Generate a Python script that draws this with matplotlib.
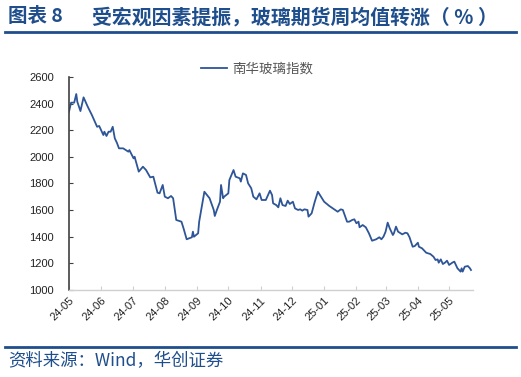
import matplotlib
matplotlib.use('Agg')
import matplotlib.pyplot as plt
import matplotlib.dates as mdates
import pandas as pd

plt.rcParams['font.family'] = ['Noto Sans CJK SC', 'DejaVu Sans']

# 南华玻璃指数
dates = ['2024-05-01', '2024-05-03', '2024-05-06', '2024-05-08', '2024-05-09', '2024-05-12',
         '2024-05-15', '2024-05-19', '2024-05-23', '2024-05-28', '2024-05-30', '2024-06-03',
         '2024-06-04', '2024-06-06', '2024-06-08', '2024-06-10', '2024-06-12', '2024-06-14',
         '2024-06-16', '2024-06-18', '2024-06-22', '2024-06-27', '2024-06-28', '2024-07-02',
         '2024-07-03', '2024-07-07', '2024-07-11', '2024-07-14', '2024-07-18', '2024-07-21',
         '2024-07-25', '2024-07-27', '2024-07-30', '2024-08-01', '2024-08-04', '2024-08-07',
         '2024-08-09', '2024-08-12', '2024-08-17', '2024-08-19', '2024-08-22', '2024-08-27',
         '2024-08-28', '2024-08-29', '2024-09-02', '2024-09-03', '2024-09-08', '2024-09-13',
         '2024-09-17', '2024-09-18', '2024-09-20', '2024-09-23', '2024-09-24', '2024-09-26',
         '2024-09-27', '2024-10-01', '2024-10-02', '2024-10-06', '2024-10-08', '2024-10-12',
         '2024-10-13', '2024-10-15', '2024-10-18', '2024-10-20', '2024-10-23', '2024-10-25',
         '2024-10-28', '2024-10-31', '2024-11-02', '2024-11-06', '2024-11-10', '2024-11-12',
         '2024-11-13', '2024-11-16', '2024-11-18', '2024-11-20', '2024-11-22', '2024-11-25',
         '2024-11-27', '2024-11-29', '2024-12-02', '2024-12-04', '2024-12-07', '2024-12-09',
         '2024-12-11', '2024-12-13', '2024-12-16', '2024-12-17', '2024-12-20', '2024-12-23',
         '2024-12-26', '2024-12-29', '2025-01-01', '2025-01-06', '2025-01-14', '2025-01-17',
         '2025-01-19', '2025-01-23', '2025-01-25', '2025-01-28', '2025-01-30', '2025-02-01',
         '2025-02-03', '2025-02-04', '2025-02-07', '2025-02-10', '2025-02-13', '2025-02-16',
         '2025-02-20', '2025-02-23', '2025-02-25', '2025-02-27', '2025-03-01', '2025-03-03',
         '2025-03-05', '2025-03-08', '2025-03-09', '2025-03-11', '2025-03-13', '2025-03-17',
         '2025-03-20', '2025-03-22', '2025-03-24', '2025-03-27', '2025-03-29', '2025-04-01',
         '2025-04-02', '2025-04-05', '2025-04-09', '2025-04-13', '2025-04-16', '2025-04-18',
         '2025-04-20', '2025-04-21', '2025-04-23', '2025-04-25', '2025-04-27', '2025-04-29',
         '2025-05-01', '2025-05-04', '2025-05-06', '2025-05-09', '2025-05-12', '2025-05-13',
         '2025-05-14', '2025-05-16', '2025-05-19', '2025-05-21', '2025-05-22']
values = [2339, 2407, 2407, 2472, 2414, 2344,
          2447, 2377, 2314, 2226, 2232, 2164,
          2189, 2157, 2189, 2189, 2226, 2139,
          2106, 2064, 2064, 2039, 2051, 1989,
          2001, 1889, 1926, 1901, 1846, 1851,
          1731, 1726, 1789, 1701, 1689, 1706,
          1689, 1526, 1513, 1463, 1381, 1396,
          1438, 1400, 1426, 1513, 1738, 1689,
          1601, 1556, 1601, 1663, 1789, 1689,
          1701, 1726, 1826, 1901, 1851, 1839,
          1814, 1876, 1864, 1801, 1764, 1701,
          1681, 1726, 1676, 1676, 1746, 1713,
          1651, 1638, 1621, 1689, 1638, 1631,
          1671, 1646, 1663, 1613, 1601, 1606,
          1596, 1606, 1601, 1551, 1576, 1663,
          1738, 1701, 1663, 1631, 1588, 1606,
          1601, 1513, 1513, 1526, 1531, 1501,
          1513, 1471, 1488, 1471, 1426, 1370,
          1381, 1396, 1381, 1401, 1438, 1506,
          1463, 1413, 1426, 1476, 1438, 1418,
          1430, 1426, 1396, 1325, 1330, 1355,
          1325, 1313, 1280, 1270, 1250, 1225,
          1230, 1205, 1230, 1195, 1205, 1220,
          1188, 1205, 1213, 1163, 1138, 1163,
          1138, 1175, 1180, 1163, 1150]
tick_months = ['24-05', '24-06', '24-07', '24-08', '24-09', '24-10', '24-11',
               '24-12', '25-01', '25-02', '25-03', '25-04', '25-05']
yticks = [1000, 1200, 1400, 1600, 1800, 2000, 2200, 2400, 2600]

x = pd.to_datetime(dates)
blue = '#1F4E8C'
line_color = '#2E5597'

fig = plt.figure(figsize=(5.21, 3.77), dpi=100)
ax = fig.add_axes([0.1324, 0.2308, 0.7756, 0.565])

ax.plot(x, values, color=line_color, lw=1.3, label='南华玻璃指数')

ax.set_ylim(1000, 2600)
ax.set_yticks(yticks)
ax.set_xlim(pd.Timestamp('2024-05-01'), pd.Timestamp('2025-05-24'))
ax.set_xticks(pd.to_datetime(['20' + m + '-01' for m in tick_months]))
ax.xaxis.set_major_formatter(mdates.DateFormatter('%y-%m'))

for s in ['top', 'right']:
    ax.spines[s].set_visible(False)
ax.spines['left'].set_color('#404040')
ax.spines['left'].set_linewidth(1.2)
ax.spines['bottom'].set_color('#D0D0D0')
ax.spines['bottom'].set_linewidth(1.0)

ax.tick_params(axis='y', direction='in', length=3, color='#404040', labelsize=8,
               labelcolor='#222222', pad=11)
ax.tick_params(axis='x', direction='in', length=3, color='#D0D0D0', labelsize=8,
               labelcolor='#222222', pad=4)
for lab in ax.get_xticklabels() + ax.get_yticklabels():
    lab.set_fontfamily('Liberation Sans')
for lab in ax.get_xticklabels():
    lab.set_rotation(45)
    lab.set_ha('right')
    lab.set_rotation_mode('anchor')

ax.legend(loc='center', bbox_to_anchor=(0.465, 1.04), frameon=False,
          fontsize=9.7, handlelength=2.0, handletextpad=0.35, labelcolor='#555555')

# title, rules and source
fig.text(0.015, 0.955, '图表 8', color=blue,
         fontsize=14, fontweight='bold', va='center', ha='left')
fig.text(0.176, 0.955, '受宏观因素提振，玻璃期货周均值转涨（ % ）', color=blue,
         fontsize=14.3, fontweight='bold', va='center', ha='left')
fig.add_artist(plt.Line2D([0.01, 0.99], [0.915, 0.915], color=blue, lw=2))
fig.add_artist(plt.Line2D([0.01, 0.99], [0.08, 0.08], color=blue, lw=2))
fig.text(0.015, 0.042, '资料来源：Wind，华创证券', color=blue, fontsize=12.5,
         style='italic', va='center', ha='left')

fig.savefig('out.png', dpi=100)
